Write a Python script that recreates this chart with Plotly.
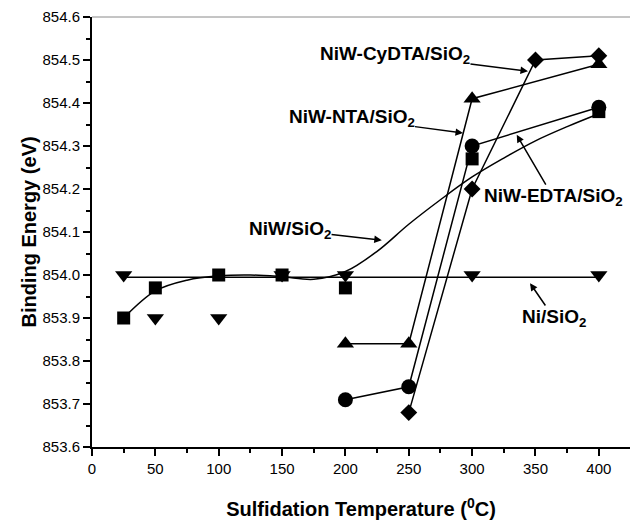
import plotly.graph_objects as go

# ---------------- data ----------------
# NiW/SiO2 (squares)
niw_x = [25, 50, 100, 150, 200, 300, 400]
niw_y = [853.90, 853.97, 854.00, 854.00, 853.97, 854.27, 854.38]
# smooth fitted curve for NiW/SiO2
niw_fit_x = [25, 50, 75, 100, 125, 150, 175, 200, 225, 250, 275, 300, 325, 350, 375, 400]
niw_fit_y = [853.900, 853.963, 853.988, 853.998, 854.000, 853.996, 853.990, 854.008,
             854.055, 854.118, 854.175, 854.228, 854.272, 854.312, 854.345, 854.375]
# Ni/SiO2 (down triangles) and its flat fit line
ni_x = [25, 50, 100, 150, 200, 300, 400]
ni_y = [854.00, 853.90, 853.90, 854.00, 854.00, 854.00, 854.00]
ni_fit_x = [25, 400]
ni_fit_y = [853.995, 853.995]
# NiW-NTA/SiO2 (up triangles)
nta_x = [200, 250, 300, 400]
nta_y = [853.84, 853.84, 854.41, 854.49]
# NiW-EDTA/SiO2 (circles)
edta_x = [200, 250, 300, 400]
edta_y = [853.71, 853.74, 854.30, 854.39]
# NiW-CyDTA/SiO2 (diamonds)
cydta_x = [250, 300, 350, 400]
cydta_y = [853.68, 854.20, 854.50, 854.51]

# labels: (text, text_x, text_y, arrow_head_x, arrow_head_y)
labels = [
    ("<b>NiW-CyDTA/SiO<sub>2</sub></b>", 239.1, 854.512, 344.1, 854.474),
    ("<b>NiW-NTA/SiO<sub>2</sub></b>", 204.8, 854.365, 292.8, 854.330),
    ("<b>NiW-EDTA/SiO<sub>2</sub></b>", 363.9, 854.181, 335.2, 854.326),
    ("<b>NiW/SiO<sub>2</sub></b>", 156.3, 854.105, 228.7, 854.081),
    ("<b>Ni/SiO<sub>2</sub></b>", 364.6, 853.900, 345.7, 853.981),
]

FONT = "Liberation Sans, Arial, sans-serif"
BLACK = "black"

fig = go.Figure()

fig.add_trace(go.Scatter(x=niw_fit_x, y=niw_fit_y, mode="lines", line_shape="spline",
                         line=dict(color=BLACK, width=1.5), showlegend=False))
fig.add_trace(go.Scatter(x=ni_fit_x, y=ni_fit_y, mode="lines",
                         line=dict(color=BLACK, width=1.5), showlegend=False))
fig.add_trace(go.Scatter(x=nta_x, y=nta_y, mode="lines+markers",
                         line=dict(color=BLACK, width=1.5),
                         marker=dict(symbol="triangle-up", size=15, color=BLACK), showlegend=False))
fig.add_trace(go.Scatter(x=edta_x, y=edta_y, mode="lines+markers",
                         line=dict(color=BLACK, width=1.5),
                         marker=dict(symbol="circle", size=15, color=BLACK), showlegend=False))
fig.add_trace(go.Scatter(x=cydta_x, y=cydta_y, mode="lines+markers",
                         line=dict(color=BLACK, width=1.5),
                         marker=dict(symbol="diamond", size=13, color=BLACK), showlegend=False))
fig.add_trace(go.Scatter(x=niw_x, y=niw_y, mode="markers",
                         marker=dict(symbol="square", size=13, color=BLACK), showlegend=False))
fig.add_trace(go.Scatter(x=ni_x, y=ni_y, mode="markers",
                         marker=dict(symbol="triangle-down", size=15, color=BLACK), showlegend=False))

annotations = []
for text, tx, ty, hx, hy in labels:
    annotations.append(dict(x=hx, y=hy, xref="x", yref="y", ax=tx, ay=ty,
                            axref="x", ayref="y", text=text, showarrow=True,
                            arrowhead=2, arrowsize=1, arrowwidth=1.5, arrowcolor=BLACK,
                            standoff=0, borderpad=0,
                            font=dict(family=FONT, size=19, color=BLACK)))

fig.update_layout(
    width=630, height=521,
    margin=dict(l=92, r=0, t=17, b=74),
    paper_bgcolor="white", plot_bgcolor="white",
    font=dict(family=FONT, color=BLACK),
    annotations=annotations,
    shapes=[dict(type="line", xref="paper", yref="paper", x0=0, x1=1, y0=1, y1=1,
                 line=dict(color="#8a8a8a", width=1))],
)

fig.update_xaxes(
    range=[0, 424.6], tickmode="array", tickvals=[0, 50, 100, 150, 200, 250, 300, 350, 400],
    ticks="outside", ticklen=7, tickwidth=1.5, tickcolor=BLACK,
    showline=True, linewidth=2, linecolor=BLACK, showgrid=False, zeroline=False,
    tickfont=dict(family=FONT, size=15, color=BLACK),
    minor=dict(ticks="outside", dtick=25, tick0=0, ticklen=4, tickwidth=1.5, tickcolor=BLACK, showgrid=False),
    title=dict(text="Sulfidation Temperature (<sup>0</sup>C)", standoff=26,
               font=dict(family=FONT, size=20, color=BLACK, weight="bold")),
)
fig.update_yaxes(
    range=[853.6, 854.6], tick0=853.6, dtick=0.1, tickformat=".1f",
    ticks="outside", ticklen=7, tickwidth=1.5, tickcolor=BLACK,
    showline=True, linewidth=2, linecolor=BLACK, showgrid=False, zeroline=False,
    tickfont=dict(family=FONT, size=15, color=BLACK),
    minor=dict(ticks="outside", dtick=0.05, tick0=853.6, ticklen=4, tickwidth=1.5, tickcolor=BLACK, showgrid=False),
    title=dict(text="Binding Energy (eV)", standoff=0,
               font=dict(family=FONT, size=20, color=BLACK, weight="bold")),
)

fig.write_html("out.html")
